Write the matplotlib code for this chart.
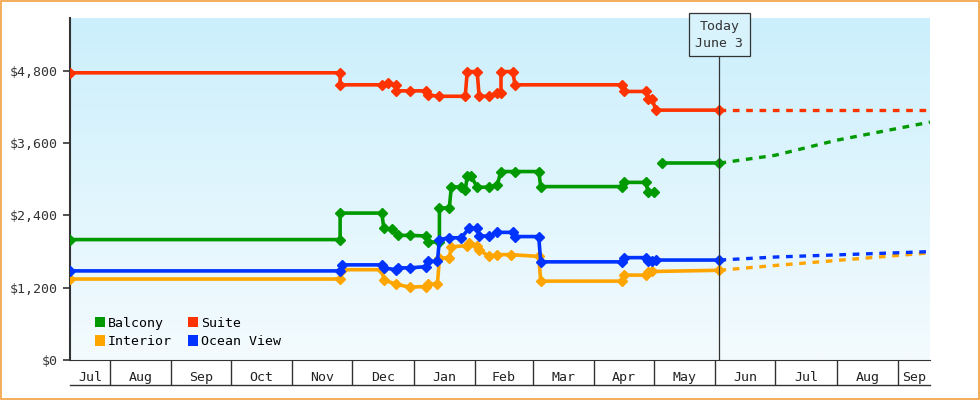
"""Cruise cabin price history chart."""

import datetime as dt

import matplotlib
matplotlib.use("Agg")
import matplotlib.dates as mdates
import matplotlib.pyplot as plt
import numpy as np
from matplotlib.patches import Patch

FONT = "DejaVu Sans Mono"

BALCONY = [
    ("2023-07-12", 2000), ("2023-11-25", 2000), ("2023-11-25", 2440),
    ("2023-12-16", 2440), ("2023-12-17", 2190), ("2023-12-21", 2170),
    ("2023-12-24", 2070), ("2023-12-30", 2070), ("2024-01-07", 2060),
    ("2024-01-08", 1960), ("2024-01-14", 1960), ("2024-01-14", 2520),
    ("2024-01-19", 2530), ("2024-01-20", 2880), ("2024-01-25", 2870),
    ("2024-01-27", 2820), ("2024-01-28", 3050), ("2024-01-30", 3050),
    ("2024-02-02", 2870), ("2024-02-08", 2870), ("2024-02-12", 2900),
    ("2024-02-14", 3130), ("2024-02-21", 3130), ("2024-03-04", 3130),
    ("2024-03-05", 2880), ("2024-04-15", 2880), ("2024-04-16", 2950),
    ("2024-04-27", 2950), ("2024-04-28", 2790), ("2024-05-01", 2790),
]
BALCONY_RECENT = [("2024-05-05", 3270), ("2024-06-03", 3270)]
BALCONY_FORECAST = [("2024-06-03", 3270), ("2024-07-01", 3400),
                    ("2024-08-01", 3650), ("2024-09-17", 3950)]

SUITE = [
    ("2023-07-12", 4770), ("2023-11-25", 4770), ("2023-11-25", 4570),
    ("2023-12-16", 4570), ("2023-12-19", 4600), ("2023-12-23", 4570),
    ("2023-12-23", 4470), ("2023-12-30", 4470), ("2024-01-07", 4470),
    ("2024-01-08", 4400), ("2024-01-14", 4380), ("2024-01-27", 4380),
    ("2024-01-28", 4790), ("2024-02-02", 4790), ("2024-02-03", 4380),
    ("2024-02-08", 4380), ("2024-02-12", 4440), ("2024-02-14", 4440),
    ("2024-02-14", 4790), ("2024-02-20", 4790), ("2024-02-21", 4570),
    ("2024-04-15", 4570), ("2024-04-16", 4460), ("2024-04-27", 4460),
    ("2024-04-28", 4340), ("2024-04-30", 4340), ("2024-05-02", 4150),
    ("2024-06-03", 4150),
]
SUITE_FORECAST = [("2024-06-03", 4150), ("2024-09-17", 4150)]

OCEAN_VIEW = [
    ("2023-07-12", 1480), ("2023-11-25", 1480), ("2023-11-26", 1580),
    ("2023-12-16", 1580), ("2023-12-17", 1530), ("2023-12-23", 1500),
    ("2023-12-24", 1530), ("2023-12-30", 1530), ("2024-01-07", 1550),
    ("2024-01-08", 1640), ("2024-01-13", 1640), ("2024-01-14", 2000),
    ("2024-01-19", 2030), ("2024-01-25", 2030), ("2024-01-29", 2190),
    ("2024-02-02", 2190), ("2024-02-03", 2060), ("2024-02-08", 2060),
    ("2024-02-12", 2120), ("2024-02-20", 2120), ("2024-02-21", 2050),
    ("2024-03-04", 2050), ("2024-03-05", 1630), ("2024-04-15", 1630),
    ("2024-04-16", 1700), ("2024-04-27", 1700), ("2024-04-28", 1650),
    ("2024-04-30", 1650), ("2024-05-02", 1660), ("2024-06-03", 1660),
]
OCEAN_VIEW_FORECAST = [("2024-06-03", 1660), ("2024-07-01", 1710),
                       ("2024-09-17", 1800)]

INTERIOR = [
    ("2023-07-12", 1345), ("2023-11-25", 1345), ("2023-11-26", 1500),
    ("2023-12-16", 1500), ("2023-12-17", 1330), ("2023-12-23", 1260),
    ("2023-12-30", 1210), ("2024-01-07", 1220), ("2024-01-08", 1260),
    ("2024-01-13", 1260), ("2024-01-14", 1690), ("2024-01-19", 1700),
    ("2024-01-20", 1880), ("2024-01-28", 1900), ("2024-01-29", 1940),
    ("2024-02-02", 1900), ("2024-02-03", 1830), ("2024-02-08", 1720),
    ("2024-02-12", 1750), ("2024-02-19", 1750), ("2024-03-04", 1720),
    ("2024-03-05", 1310), ("2024-04-15", 1310), ("2024-04-16", 1410),
    ("2024-04-27", 1410), ("2024-04-28", 1460), ("2024-04-30", 1470),
    ("2024-06-03", 1490),
]
INTERIOR_FORECAST = [("2024-06-03", 1490), ("2024-07-01", 1570),
                     ("2024-09-17", 1780)]

MONTH_LABELS = ["Jul", "Aug", "Sep", "Oct", "Nov", "Dec", "Jan", "Feb",
                "Mar", "Apr", "May", "Jun", "Jul", "Aug", "Sep"]
Y_TICKS = [0, 1200, 2400, 3600, 4800]

TODAY = "2024-06-03"
X_START = "2023-07-12"
X_END = "2024-09-17"

COLORS = {
    "Balcony": "#009900",
    "Suite": "#ff3300",
    "Interior": "#ffa500",
    "Ocean View": "#0033ff",
}


def _parse(points):
    dates = [dt.datetime.strptime(d, "%Y-%m-%d") for d, _ in points]
    values = [v for _, v in points]
    return dates, values


def _draw_series(axes, points, color):
    dates, values = _parse(points)
    axes.plot(dates, values, color=color, linewidth=2.6, marker="D",
              markersize=5.5, zorder=3)


def _draw_forecast(axes, points, color):
    dates, values = _parse(points)
    axes.plot(dates, values, color=color, linewidth=2.4,
              linestyle=(0, (2, 2)), zorder=3)


def main():
    plt.rcParams["font.family"] = [FONT]
    figure = plt.figure(figsize=(9.8, 4.0), dpi=100)
    figure.patch.set_facecolor("white")
    figure.patches.append(plt.Rectangle(
        (0.001, 0.002), 0.998, 0.996, transform=figure.transFigure,
        fill=False, edgecolor="#f0a040", linewidth=1.2))
    axes = figure.add_axes([70 / 980, 40 / 400, 860 / 980, 342 / 400])

    x0 = mdates.date2num(dt.datetime.strptime(X_START, "%Y-%m-%d"))
    x1 = mdates.date2num(dt.datetime.strptime(X_END, "%Y-%m-%d"))
    y_top = 5680
    gradient = np.linspace(0, 1, 256).reshape(-1, 1)
    cmap = matplotlib.colors.LinearSegmentedColormap.from_list(
        "bg", ["#f4fbfe", "#cbeffc"])
    axes.imshow(gradient, cmap=cmap, aspect="auto", origin="lower",
                extent=[x0, x1, 0, y_top], zorder=0)

    _draw_series(axes, BALCONY, COLORS["Balcony"])
    _draw_series(axes, BALCONY_RECENT, COLORS["Balcony"])
    _draw_forecast(axes, BALCONY_FORECAST, COLORS["Balcony"])
    _draw_series(axes, SUITE, COLORS["Suite"])
    _draw_forecast(axes, SUITE_FORECAST, COLORS["Suite"])
    _draw_series(axes, INTERIOR, COLORS["Interior"])
    _draw_forecast(axes, INTERIOR_FORECAST, COLORS["Interior"])
    _draw_series(axes, OCEAN_VIEW, COLORS["Ocean View"])
    _draw_forecast(axes, OCEAN_VIEW_FORECAST, COLORS["Ocean View"])

    axes.set_xlim(x0, x1)
    axes.set_ylim(0, y_top)

    # today marker
    today = mdates.date2num(dt.datetime.strptime(TODAY, "%Y-%m-%d"))
    axes.plot([today, today], [0, 5130], color="#333333", linewidth=0.9,
              zorder=4)
    axes.text(today, 5400, "Today\nJune 3", ha="center", va="center",
              fontsize=9.5, color="#333333", zorder=5, linespacing=1.4,
              bbox=dict(boxstyle="square,pad=0.5", facecolor="#d8f3fc",
                        edgecolor="#333333", linewidth=0.9))

    # y axis
    axes.set_yticks(Y_TICKS)
    axes.set_yticklabels([f"${v:,}" for v in Y_TICKS])
    axes.tick_params(axis="y", length=5, width=1.2, labelsize=9.5,
                     colors="#333333")
    for side in ("top", "right"):
        axes.spines[side].set_visible(False)
    axes.spines["left"].set_linewidth(1.5)
    axes.spines["left"].set_color("#333333")
    axes.spines["bottom"].set_color("#333333")

    # month boxes along the bottom
    boundaries = [dt.datetime(2023, m, 1) for m in range(8, 13)] + \
        [dt.datetime(2024, m, 1) for m in range(1, 10)]
    bnum = [x0] + [mdates.date2num(b) for b in boundaries] + [x1]
    centers = [(a + b) / 2 for a, b in zip(bnum[:-1], bnum[1:])]
    axes.set_xticks(centers)
    axes.set_xticklabels(MONTH_LABELS)
    axes.tick_params(axis="x", length=0, pad=8, labelsize=9.5,
                     colors="#222222")
    axes.set_xticks(bnum[1:-1], minor=True)
    axes.tick_params(axis="x", which="minor", length=18, width=1,
                     color="#333333")
    axes.plot([0, 1], [-25 / 342, -25 / 342], transform=axes.transAxes,
              color="#333333", linewidth=1, clip_on=False)

    handles = [Patch(facecolor=COLORS[name], edgecolor="none", label=name)
               for name in ("Balcony", "Interior", "Suite", "Ocean View")]
    axes.legend(handles=handles, loc="lower left", ncol=2, frameon=False,
                bbox_to_anchor=(0.015, 0.0), handlelength=0.8,
                handleheight=0.8, handletextpad=0.2, columnspacing=1.2,
                fontsize=9.5, labelspacing=0.4)

    figure.savefig("out.png", dpi=100)


if __name__ == "__main__":
    main()
